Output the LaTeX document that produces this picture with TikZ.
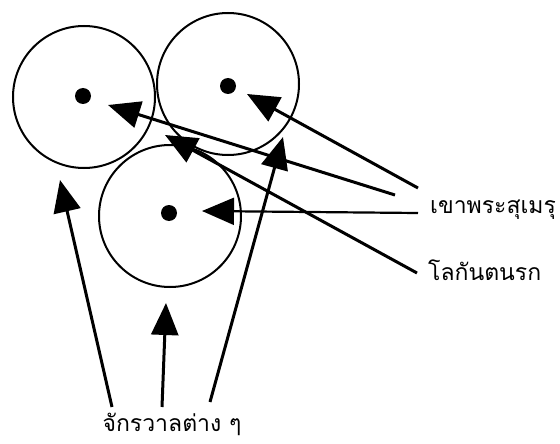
\documentclass[tikz,border=0pt]{standalone}
\usepackage{fontspec}
\newfontfamily\thaifont[Script=Thai]{Loma}
\usetikzlibrary{arrows.meta}
\begin{document}
\begin{tikzpicture}[x=1pt,y=-1pt,
  world/.style={draw,circle,line width=2pt,minimum size=142pt,inner sep=0pt},
  dotmark/.style={circle,fill=black,minimum size=16pt,inner sep=0pt},
  lbl/.style={font=\thaifont\fontsize{23}{26}\selectfont,inner sep=0pt},
  pointer/.style={line width=3pt,-{Triangle[length=32pt,width=27pt]}}]
\useasboundingbox (0,0) rectangle (560,444);
\node[world] (c1) at (84,97) {};
\node[world] (c2) at (228,84) {};
\node[world] (c3) at (170,216) {};
\node[dotmark] (d1) at (83,96) {};
\node[dotmark] (d2) at (228,86) {};
\node[dotmark] (d3) at (169,213) {};
\node[lbl,anchor=west] (meru) at (430,210) {เขาพระสุเมรุ};
\node[lbl,anchor=west] (narok) at (428,270) {โลกันตนรก};
\node[lbl] (chak) at (172,424) {จักรวาลต่าง ๆ};
\coordinate (m1) at (418,188);
\coordinate (m2) at (395,195);
\coordinate (m3) at (418,213);
\coordinate (n1) at (417,273);
\coordinate (k1) at (112,407);
\coordinate (k2) at (162,407);
\coordinate (k3) at (210,402);
\coordinate (t1) at (247,94);
\coordinate (t2) at (108,105);
\coordinate (t3) at (202,211);
\coordinate (t4) at (165,135);
\coordinate (t5) at (60,180);
\coordinate (t6) at (166,303);
\coordinate (t7) at (283,137);
\draw[pointer] (m1) -- (t1);
\draw[pointer] (m2) -- (t2);
\draw[pointer,line width=2.2pt] (m3) -- (t3);
\draw[pointer] (n1) -- (t4);
\draw[pointer] (k1) -- (t5);
\draw[pointer] (k2) -- (t6);
\draw[pointer] (k3) -- (t7);
\end{tikzpicture}
\end{document}
